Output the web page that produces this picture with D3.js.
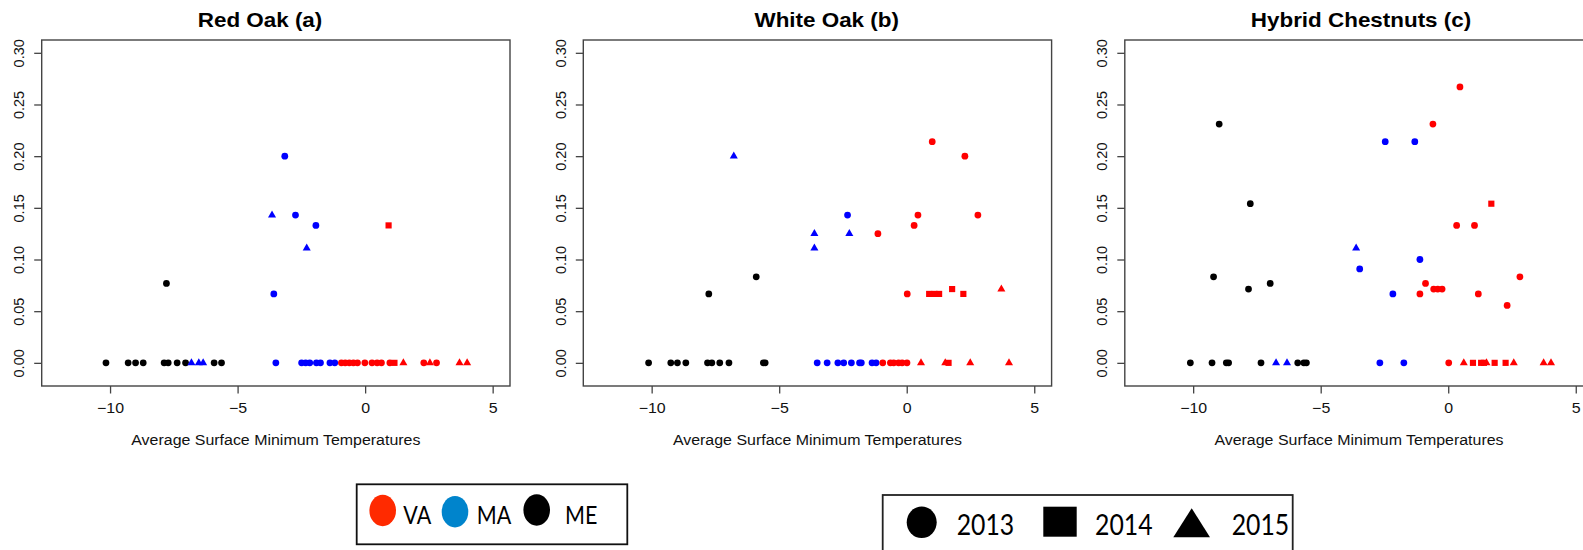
<!DOCTYPE html>
<html>
<head>
<meta charset="utf-8">
<script src="https://cdn.jsdelivr.net/npm/d3@7"></script>
<style>
  html, body { margin: 0; padding: 0; background: #fff; }
  svg { display: block; }
</style>
</head>
<body>
<svg id="chart" width="1583" height="550"></svg>
<script>
// ---------------- DATA ----------------
const panelTitles = ["Red Oak (a)", "White Oak (b)", "Hybrid Chestnuts (c)"];
const xLabel = "Average Surface Minimum Temperatures";
const xTicks = [-10, -5, 0, 5];
const yTicks = [0, 0.05, 0.10, 0.15, 0.20, 0.25, 0.30];
const states = ["VA", "MA", "ME"];
const years = [2013, 2014, 2015];

// each point: [average surface minimum temperature, rate, year]
const redOakME = [
  [-10.16, 0, 2013], [-9.29, 0, 2013], [-9.00, 0, 2013], [-8.70, 0, 2013],
  [-7.88, 0, 2013], [-7.72, 0, 2013], [-7.37, 0, 2013], [-7.04, 0, 2013],
  [-5.92, 0, 2013], [-5.63, 0, 2013], [-7.79, 0.0769, 2013]
];
const redOakMA = [
  [-3.15, 0.200, 2013], [-2.73, 0.143, 2013], [-1.93, 0.133, 2013], [-3.58, 0.0667, 2013],
  [-3.50, 0, 2013], [-2.49, 0, 2013], [-2.33, 0, 2013], [-2.17, 0, 2013],
  [-1.91, 0, 2013], [-1.75, 0, 2013], [-1.38, 0, 2013], [-1.19, 0, 2013],
  [-3.65, 0.143, 2015], [-2.29, 0.111, 2015],
  [-6.81, 0, 2015], [-6.52, 0, 2015], [-6.35, 0, 2015]
];
const redOakVA = [
  [-0.93, 0, 2013], [-0.78, 0, 2013], [-0.62, 0, 2013], [-0.46, 0, 2013],
  [-0.30, 0, 2013], [-0.01, 0, 2013], [0.27, 0, 2013], [0.47, 0, 2013],
  [0.64, 0, 2013], [0.97, 0, 2013], [2.30, 0, 2013], [2.80, 0, 2013],
  [0.92, 0.133, 2014], [1.15, 0, 2014],
  [1.50, 0, 2015], [2.54, 0, 2015], [3.70, 0, 2015], [4.00, 0, 2015]
];

const whiteOakME = [
  [-10.12, 0, 2013], [-9.25, 0, 2013], [-8.99, 0, 2013], [-8.66, 0, 2013],
  [-7.81, 0, 2013], [-7.64, 0, 2013], [-7.33, 0, 2013], [-6.97, 0, 2013],
  [-5.62, 0, 2013], [-5.55, 0, 2013], [-7.76, 0.0667, 2013], [-5.90, 0.0833, 2013]
];
const whiteOakMA = [
  [-2.32, 0.143, 2013],
  [-3.51, 0, 2013], [-3.12, 0, 2013], [-2.70, 0, 2013], [-2.47, 0, 2013],
  [-2.17, 0, 2013], [-1.85, 0, 2013], [-1.78, 0, 2013], [-1.36, 0, 2013], [-1.20, 0, 2013],
  [-6.78, 0.200, 2015], [-3.62, 0.125, 2015], [-3.62, 0.111, 2015], [-2.25, 0.125, 2015]
];
const whiteOakVA = [
  [1.00, 0.214, 2013], [2.28, 0.200, 2013], [-1.13, 0.125, 2013], [0.29, 0.133, 2013],
  [0.44, 0.143, 2013], [2.79, 0.143, 2013], [0.02, 0.0667, 2013],
  [-0.94, 0, 2013], [-0.64, 0, 2013], [-0.51, 0, 2013], [-0.32, 0, 2013],
  [-0.18, 0, 2013], [0.01, 0, 2013],
  [0.88, 0.0667, 2014], [1.09, 0.0667, 2014], [1.27, 0.0667, 2014],
  [1.78, 0.0714, 2014], [2.22, 0.0667, 2014], [1.64, 0, 2014],
  [3.71, 0.0714, 2015], [0.56, 0, 2015], [1.51, 0, 2015], [2.49, 0, 2015], [4.01, 0, 2015]
];

const chestnutME = [
  [-8.98, 0.231, 2013], [-7.76, 0.154, 2013], [-9.20, 0.0833, 2013],
  [-7.83, 0.0714, 2013], [-6.98, 0.0769, 2013],
  [-10.11, 0, 2013], [-9.26, 0, 2013], [-8.70, 0, 2013], [-8.61, 0, 2013],
  [-7.34, 0, 2013], [-5.90, 0, 2013], [-5.66, 0, 2013], [-5.56, 0, 2013]
];
const chestnutMA = [
  [-2.47, 0.214, 2013], [-1.31, 0.214, 2013], [-3.47, 0.0909, 2013],
  [-2.17, 0.0667, 2013], [-1.11, 0.100, 2013], [-2.68, 0, 2013], [-1.74, 0, 2013],
  [-3.61, 0.111, 2015], [-6.75, 0, 2015], [-6.32, 0, 2015]
];
const chestnutVA = [
  [0.46, 0.267, 2013], [-0.60, 0.231, 2013], [0.33, 0.133, 2013], [1.03, 0.133, 2013],
  [-0.89, 0.0769, 2013], [2.81, 0.0833, 2013], [-0.57, 0.0714, 2013], [-0.41, 0.0714, 2013],
  [-0.24, 0.0714, 2013], [-1.11, 0.0667, 2013], [1.18, 0.0667, 2013], [2.31, 0.0556, 2013],
  [0.02, 0, 2013],
  [1.69, 0.154, 2014], [0.97, 0, 2014], [1.29, 0, 2014], [1.40, 0, 2014],
  [1.82, 0, 2014], [2.25, 0, 2014],
  [0.61, 0, 2015], [1.50, 0, 2015], [2.57, 0, 2015], [3.74, 0, 2015], [4.03, 0, 2015]
];

const panelData = [
  { ME: redOakME, MA: redOakMA, VA: redOakVA },
  { ME: whiteOakME, MA: whiteOakMA, VA: whiteOakVA },
  { ME: chestnutME, MA: chestnutMA, VA: chestnutVA }
];

// ---------------- LAYOUT / STYLE ----------------
const svg = d3.select("#chart");
const FONT = "'Liberation Sans', Arial, Helvetica, sans-serif";
const LFONT = "Lato, 'Open Sans', sans-serif";
const frameTop = 40, frameBottom = 386, frameW = 468.3;
const panelLefts = [41.7, 583.3, 1124.8];
const titleCenters = [260, 826.7, 1361];
const pointColor = { VA: "#ff0000", MA: "#0000ff", ME: "#000000" };
const legendColor = { VA: "#ff2a00", MA: "#0084cc", ME: "#000000" };
const yearShape = { 2013: d3.symbolCircle, 2014: d3.symbolSquare, 2015: d3.symbolTriangle };
const yearSize = { 2013: 36, 2014: 38, 2015: 28 };
const axisColor = "#444";

panelData.forEach((pd, i) => {
  const left = panelLefts[i];
  const x = d3.scaleLinear().domain([-12.68, 5.68]).range([left, left + frameW]);
  const y = d3.scaleLinear().domain([-0.0224, 0.3124]).range([frameBottom, frameTop]);
  const g = svg.append("g");

  // title
  g.append("text")
    .attr("transform", `translate(${titleCenters[i]},27) scale(1.15,1)`)
    .attr("text-anchor", "middle")
    .attr("font-family", FONT).attr("font-weight", "bold").attr("font-size", 19.5)
    .attr("fill", "#000")
    .text(panelTitles[i]);

  // x axis
  const xa = g.append("g").attr("transform", `translate(0,${frameBottom})`)
    .call(d3.axisBottom(x).tickValues(xTicks).tickSize(7.5).tickFormat(d3.format("d")));
  xa.select(".domain").remove();
  xa.selectAll("line").attr("stroke", axisColor).attr("stroke-width", 1.3);
  xa.selectAll("text")
    .attr("y", 27.5).attr("dy", 0)
    .attr("transform", "scale(1.1,1)")
    .attr("font-family", FONT).attr("font-size", 14.5).attr("fill", "#111");

  // y axis
  const ya = g.append("g").attr("transform", `translate(${left},0)`)
    .call(d3.axisLeft(y).tickValues(yTicks).tickSize(7.5).tickFormat(d3.format(".2f")));
  ya.select(".domain").remove();
  ya.selectAll("line").attr("stroke", axisColor).attr("stroke-width", 1.3);
  ya.selectAll("text")
    .attr("x", 0).attr("y", 0).attr("dy", 0)
    .attr("text-anchor", "middle")
    .attr("transform", "translate(-17.7,0) rotate(-90)")
    .attr("font-family", FONT).attr("font-size", 14.5).attr("fill", "#111");

  // frame
  g.append("rect")
    .attr("x", x.range()[0]).attr("y", frameTop)
    .attr("width", frameW).attr("height", frameBottom - frameTop)
    .attr("fill", "none").attr("stroke", axisColor).attr("stroke-width", 1.4);

  // x label
  g.append("text")
    .attr("transform", `translate(${(x.range()[0] + x.range()[1]) / 2},445) scale(1.1,1)`)
    .attr("text-anchor", "middle")
    .attr("font-family", FONT).attr("font-size", 14.5).attr("fill", "#111")
    .text(xLabel);

  // points
  ["ME", "MA", "VA"].forEach(st => {
    g.append("g").selectAll("path").data(pd[st]).join("path")
      .attr("transform", d => `translate(${x(d[0])},${y(d[1])})`)
      .attr("d", d => d3.symbol().type(yearShape[d[2]]).size(yearSize[d[2]])())
      .attr("fill", pointColor[st]);
  });
});

// ---------------- LEGEND 1 (states) ----------------
const l1 = svg.append("g");
l1.append("rect").attr("x", 356.7).attr("y", 484.3).attr("width", 270.6).attr("height", 60)
  .attr("fill", "#fff").attr("stroke", "#111").attr("stroke-width", 1.8);
const l1Items = [
  { s: "VA", cx: 382.7, cy: 510.5, tx: 403.3 },
  { s: "MA", cx: 455.0, cy: 511.7, tx: 476.7 },
  { s: "ME", cx: 536.7, cy: 510.0, tx: 565.0 }
];
l1Items.forEach(it => {
  l1.append("ellipse").attr("cx", it.cx).attr("cy", it.cy).attr("rx", 13.3).attr("ry", 15.7)
    .attr("fill", legendColor[it.s]);
  l1.append("text")
    .attr("transform", `translate(${it.tx},524.3) scale(1,1.18)`)
    .attr("font-family", LFONT).attr("font-size", 21.5).attr("fill", "#000")
    .text(it.s);
});

// ---------------- LEGEND 2 (years) ----------------
const l2 = svg.append("g");
l2.append("rect").attr("x", 882.7).attr("y", 495).attr("width", 410).attr("height", 80)
  .attr("fill", "#fff").attr("stroke", "#222").attr("stroke-width", 1.8);
l2.append("ellipse").attr("cx", 921.7).attr("cy", 522.3).attr("rx", 15).attr("ry", 15.8).attr("fill", "#000");
l2.append("rect").attr("x", 1043.3).attr("y", 506.7).attr("width", 33.4).attr("height", 30).attr("fill", "#000");
l2.append("path").attr("d", "M1191.7,508.3 L1210,537.3 L1173.3,537.3 Z").attr("fill", "#000");
const l2Text = [{ t: years[0], x: 956.7 }, { t: years[1], x: 1095 }, { t: years[2], x: 1231.7 }];
l2Text.forEach(it => {
  l2.append("text")
    .attr("transform", `translate(${it.x},535) scale(1,1.18)`)
    .attr("font-family", LFONT).attr("font-size", 24.8).attr("fill", "#000")
    .text(it.t);
});
</script>
</body>
</html>
